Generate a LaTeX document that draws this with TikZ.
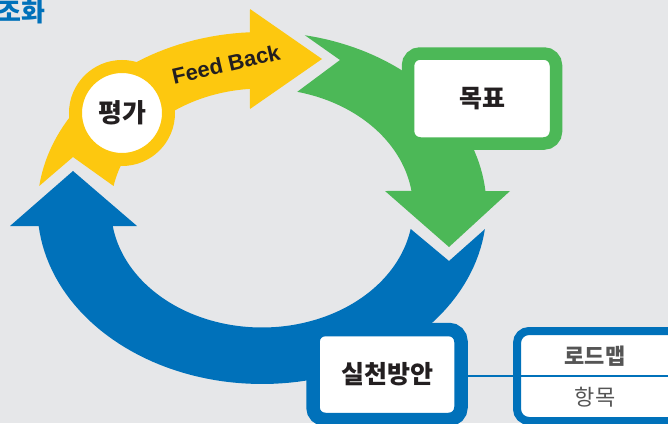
\documentclass[tikz,border=0pt]{standalone}
\usepackage{fontspec}
\setmainfont{Noto Sans CJK KR}
\newfontfamily\latinfont{Liberation Sans}
\definecolor{bggray}{HTML}{E6E7E9}
\definecolor{fbyellow}{HTML}{FDC80F}
\definecolor{goalgreen}{HTML}{4CB857}
\definecolor{planblue}{HTML}{0071BA}
\definecolor{labeltext}{HTML}{231F20}
\definecolor{cellgray}{HTML}{555555}
\tikzset{
  labelbox/.style={shape=rectangle,rounded corners=12pt,fill=white,minimum width=148pt,minimum height=90pt,
    text=labeltext,font=\fontsize{25}{30}\selectfont\bfseries},
  celltext/.style={text=cellgray,font=\fontsize{22}{26}\selectfont},
}
\begin{document}
\begin{tikzpicture}[x=1pt,y=-1pt]
\useasboundingbox (0,0) rectangle (668,423);
\fill[bggray] (0,0) rectangle (668,423);

\node[anchor=east,text=planblue,font=\fontsize{26}{30}\selectfont\bfseries] (title) at (49,12) {조화};

\fill[fbyellow] plot[domain=187.2:266.9,samples=40] ({262+224.5*cos(\x)},{208+176*sin(\x)})
  -- (250,9) -- (322,59) -- (250,109)
  -- plot[domain=265.4:190.6,samples=40] ({262+151*cos(\x)},{208+119.5*sin(\x)})
  -- (73,157) -- cycle;
\fill[goalgreen] plot[domain=281:354.5,samples=40] ({262+224.5*cos(\x)},{208+176*sin(\x)})
  -- (510,191) -- (449,247) -- (385,191)
  -- plot[domain=351.8:283.5,samples=40] ({262+151*cos(\x)},{208+119.5*sin(\x)})
  -- (340,60) -- cycle;
\fill[planblue] plot[domain=6.9:174.1,samples=80] ({262+224.5*cos(\x)},{208+176*sin(\x)})
  -- (10,226) -- (73,171) -- (137,226)
  -- plot[domain=171.3:10.1,samples=80] ({262+151*cos(\x)},{208+119.5*sin(\x)})
  -- (449,261) -- cycle;

\node[circle,fill=white,draw=fbyellow,line width=13pt,minimum size=93pt,text=labeltext,
  font=\fontsize{26}{30}\selectfont\bfseries] (eval) at (122,113) {평가};
\node[rotate=13,text=labeltext,font=\latinfont\fontsize{22}{26}\selectfont\bfseries] (fb) at (226,64) {Feed Back};

\node[labelbox,draw=goalgreen,line width=12.5pt] (goal) at (482,98.5) {목표};
\node[labelbox,draw=planblue,line width=13.5pt] (plan) at (387,374.5) {실천방안};

\node[shape=rectangle,rounded corners=12pt,fill=white,draw=planblue,line width=8pt,
  minimum width=213pt,minimum height=90pt] (roadmap) at (623.5,376) {};
\node[celltext,font=\fontsize{22}{26}\selectfont\bfseries] (rm) at (595,356) {로드맵};
\node[celltext] (item) at (595,397) {항목};

\path [-,planblue,line width=2pt] (roadmap.west) edge (roadmap.east);
\path [-,planblue,line width=2pt] (plan.east |- roadmap.west) edge (roadmap.west);
\end{tikzpicture}
\end{document}
